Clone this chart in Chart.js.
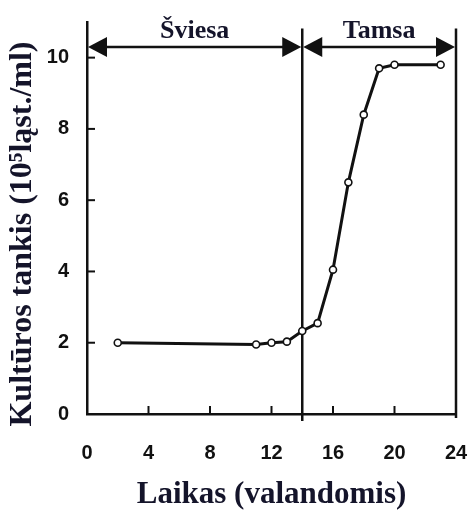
<!DOCTYPE html>
<html><head><meta charset="utf-8">
<script src="https://cdn.jsdelivr.net/npm/chart.js@4.4.1/dist/chart.umd.min.js"></script>
<style>html,body{margin:0;padding:0;background:#fff}#wrap{width:473px;height:510px}</style>
</head><body><div id="wrap"><canvas id="c" width="473" height="510"></canvas></div>
<script>
const hours = [2, 11, 12, 13, 14, 15, 16, 17, 18, 19, 20, 23];
const density = [2.0, 1.95, 2.0, 2.03, 2.33, 2.55, 4.05, 6.5, 8.4, 9.7, 9.8, 9.8];
const xTicks = [0, 4, 8, 12, 16, 20, 24];
const yTicks = [0, 2, 4, 6, 8, 10];
const phaseLabels = ['Šviesa', 'Tamsa'];
const phaseBounds = [0, 14, 24];
const xTitle = 'Laikas (valandomis)';
const yTitle = 'Kultūros tankis (10⁵ląst./ml)';

const INK = '#111';
const TITLE_INK = '#14142a';
const SERIF = '"Liberation Serif", "Times New Roman", serif';
const SANS = '"Liberation Sans", Arial, sans-serif';

const decorPlugin = {
  id: 'decor',
  beforeDatasetsDraw(chart) {
    const {ctx, scales: {x, y}, chartArea} = chart;
    ctx.save();
    ctx.strokeStyle = INK;
    ctx.lineWidth = 2.5;
    [phaseBounds[1], phaseBounds[2]].forEach((b, i) => {
      const px = x.getPixelForValue(b);
      ctx.beginPath();
      ctx.moveTo(px, y.getPixelForValue(10.82));
      ctx.lineTo(px, chartArea.bottom + (i === 0 ? 7 : 4));
      ctx.stroke();
    });
    ctx.lineWidth = 2;
    yTicks.forEach(v => {
      if (v === 0) return;
      const py = y.getPixelForValue(v);
      ctx.beginPath();
      ctx.moveTo(chartArea.left, py);
      ctx.lineTo(chartArea.left + 8, py);
      ctx.stroke();
    });
    xTicks.forEach(v => {
      if (v === 0 || v === 24) return;
      const px = x.getPixelForValue(v);
      ctx.beginPath();
      ctx.moveTo(px, chartArea.bottom);
      ctx.lineTo(px, chartArea.bottom - 8);
      ctx.stroke();
    });
    ctx.restore();
  },
  afterDraw(chart) {
    const {ctx, scales: {x, y}, chartArea} = chart;
    ctx.save();
    const ay = y.getPixelForValue(10.3);
    const head = 20, half = 10;
    for (let i = 0; i < phaseLabels.length; i++) {
      const x0 = x.getPixelForValue(phaseBounds[i]);
      const x1 = x.getPixelForValue(phaseBounds[i + 1]);
      ctx.strokeStyle = INK;
      ctx.fillStyle = INK;
      ctx.lineWidth = 2.5;
      ctx.beginPath();
      ctx.moveTo(x0 + head - 2, ay);
      ctx.lineTo(x1 - head + 2, ay);
      ctx.stroke();
      ctx.beginPath();
      ctx.moveTo(x0 + 1, ay);
      ctx.lineTo(x0 + head, ay - half);
      ctx.lineTo(x0 + head, ay + half);
      ctx.closePath();
      ctx.fill();
      ctx.beginPath();
      ctx.moveTo(x1 - 1, ay);
      ctx.lineTo(x1 - head, ay - half);
      ctx.lineTo(x1 - head, ay + half);
      ctx.closePath();
      ctx.fill();
      ctx.fillStyle = TITLE_INK;
      ctx.font = 'bold 26px ' + SERIF;
      ctx.textAlign = 'center';
      ctx.textBaseline = 'alphabetic';
      ctx.fillText(phaseLabels[i], (x0 + x1) / 2, ay - 9);
    }
    ctx.translate(23, (chartArea.top + chartArea.bottom) / 2 + 16);
    ctx.rotate(-Math.PI / 2);
    ctx.fillStyle = TITLE_INK;
    ctx.font = 'bold 32px ' + SERIF;
    ctx.textAlign = 'center';
    ctx.textBaseline = 'middle';
    ctx.fillText(yTitle, 0, 0);
    ctx.restore();
  }
};

new Chart(document.getElementById('c'), {
  type: 'line',
  data: {
    datasets: [{
      data: hours.map((h, i) => ({x: h, y: density[i]})),
      borderColor: INK,
      borderWidth: 3,
      pointRadius: 3.5,
      pointBorderWidth: 1.6,
      pointBackgroundColor: '#fff',
      pointBorderColor: INK,
      tension: 0,
      fill: false
    }]
  },
  options: {
    responsive: false,
    devicePixelRatio: 1,
    animation: false,
    events: [],
    layout: {padding: {top: 22, right: 17, left: 0, bottom: 0}},
    plugins: {legend: {display: false}, tooltip: {enabled: false}},
    scales: {
      x: {
        type: 'linear',
        min: 0, max: 24,
        afterBuildTicks: s => { s.ticks = xTicks.map(v => ({value: v})); },
        afterFit: s => { s.height = 96; s.paddingLeft = 0; s.paddingRight = 0; s.paddingTop = 0; s.paddingBottom = 0; },
        grid: {display: true, drawOnChartArea: false, drawTicks: false},
        border: {display: true, color: INK, width: 2.5},
        ticks: {color: INK, padding: 27, maxRotation: 0, autoSkip: false,
                font: {family: SANS, size: 20, weight: 'bold'}},
        title: {display: true, text: xTitle, color: TITLE_INK,
                font: {family: SERIF, size: 31, weight: 'bold'}, padding: {top: 0, bottom: -4}}
      },
      y: {
        min: 0, max: 11,
        afterBuildTicks: s => { s.ticks = yTicks.map(v => ({value: v})); },
        afterFit: s => { s.width = 87; s.paddingLeft = 0; s.paddingRight = 0; s.paddingTop = 0; s.paddingBottom = 0; },
        grid: {display: true, drawOnChartArea: false, drawTicks: false},
        border: {display: true, color: INK, width: 2.5},
        ticks: {color: INK, padding: 18, autoSkip: false,
                font: {family: SANS, size: 20, weight: 'bold'}}
      }
    }
  },
  plugins: [decorPlugin]
});
</script>
</body></html>
